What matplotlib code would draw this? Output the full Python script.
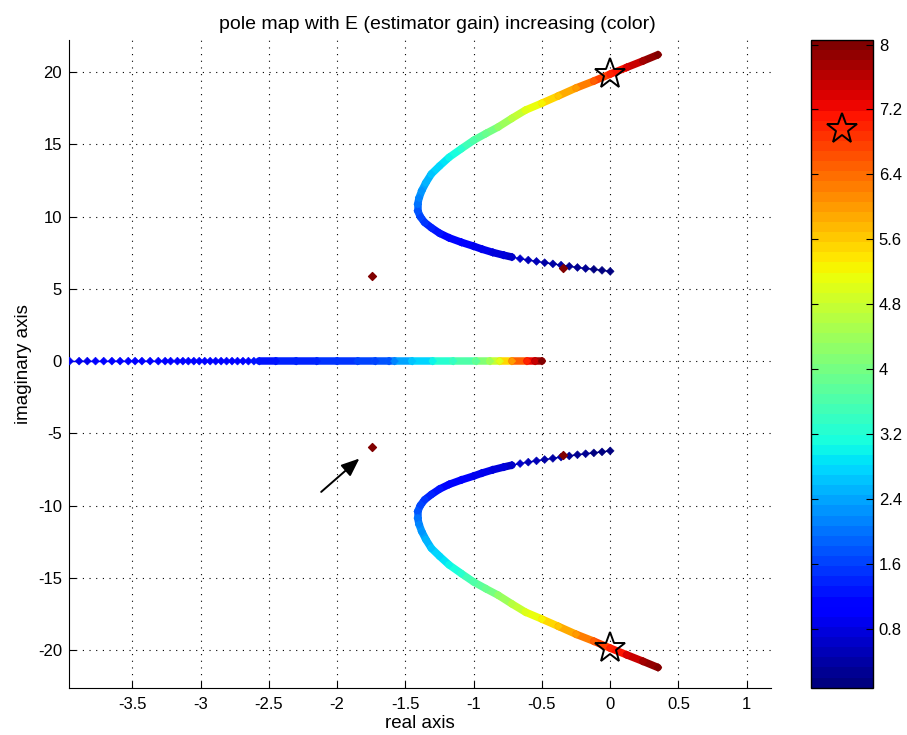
"""Pole map of the closed loop as the estimator gain E is swept.

Each pole is drawn as a dot coloured by the gain that produced it (jet colour
map); the two fixed poles and the chosen operating point are marked as well.
"""

import matplotlib

matplotlib.use("Agg")
import matplotlib.pyplot as plt
import numpy as np
from matplotlib.collections import LineCollection
from matplotlib.colors import Normalize

plt.rcParams["font.family"] = ["Liberation Sans", "DejaVu Sans"]
plt.rcParams["axes.unicode_minus"] = False

# complex pair (upper half, the lower half is its conjugate)
pair_re = [0.00, -0.06, -0.12, -0.18, -0.24, -0.30, -0.36, -0.42, -0.48, -0.54,
           -0.60, -0.66, -0.72, -0.78, -0.86, -0.94, -1.00, -1.09, -1.18, -1.25,
           -1.31, -1.36, -1.39, -1.41, -1.41, -1.40, -1.38, -1.35, -1.31, -1.25,
           -1.18, -1.09, -1.00, -0.91, -0.82, -0.72, -0.62, -0.50, -0.38, -0.25,
           -0.12, 0.00, 0.12, 0.24, 0.35]
pair_im = [6.21, 6.28, 6.35, 6.41, 6.48, 6.56, 6.64, 6.73, 6.81, 6.90,
           6.99, 7.09, 7.20, 7.33, 7.52, 7.75, 7.95, 8.22, 8.53, 8.85,
           9.23, 9.60, 9.98, 10.40, 10.86, 11.30, 11.80, 12.35, 12.95, 13.50,
           14.10, 14.70, 15.28, 15.75, 16.20, 16.80, 17.37, 17.85, 18.35, 18.90,
           19.38, 19.86, 20.32, 20.77, 21.20]
pair_gain = [0.10, 0.14, 0.18, 0.22, 0.26, 0.30, 0.34, 0.38, 0.43, 0.48,
             0.53, 0.58, 0.63, 0.70, 0.78, 0.86, 0.93, 1.02, 1.12, 1.22,
             1.35, 1.50, 1.65, 1.80, 1.98, 2.12, 2.30, 2.45, 2.62, 2.80,
             3.00, 3.30, 3.60, 3.90, 4.20, 4.60, 5.00, 5.30, 5.65, 6.00,
             6.45, 6.96, 7.35, 7.70, 8.00]

# real pole coming in from the left
real_re = [-3.96, -3.89, -3.83, -3.77, -3.71, -3.65, -3.59, -3.53, -3.48, -3.43,
           -3.37, -3.31, -3.26, -3.22, -3.17, -3.13, -3.09, -3.05, -3.01, -2.97,
           -2.93, -2.89, -2.85, -2.81, -2.77, -2.73, -2.69, -2.65, -2.61, -2.57,
           -2.45, -2.30, -2.15, -2.00, -1.85, -1.72, -1.62, -1.58, -1.45, -1.30,
           -1.15, -0.98, -0.88, -0.81, -0.72, -0.61, -0.55, -0.50]
real_gain = [0.92, 0.93, 0.94, 0.95, 0.96, 0.97, 0.98, 0.99, 1.00, 1.01,
             1.02, 1.03, 1.04, 1.05, 1.06, 1.07, 1.08, 1.09, 1.10, 1.11,
             1.12, 1.13, 1.14, 1.15, 1.16, 1.17, 1.18, 1.19, 1.20, 1.21,
             1.28, 1.36, 1.44, 1.52, 1.60, 1.68, 1.76, 2.10, 2.60, 3.00,
             3.40, 3.80, 4.40, 5.00, 6.00, 7.00, 7.50, 8.00]

# poles that do not move with E
fixed_re = [-1.744, -1.744, -0.344, -0.344]
fixed_im = [5.92, -5.92, 6.47, -6.47]

# selected gain and its pole pair
chosen_gain = 6.96
chosen_re = [0.0, 0.0]
chosen_im = [19.86, -19.86]

gain_min, gain_max = 0.07, 8.06
cmap = plt.get_cmap("jet", 64)
norm = Normalize(gain_min, gain_max)


def draw_branch(ax, re, im, gain):
    re, im, gain = map(np.asarray, (re, im, gain))
    pts = np.column_stack([re, im]).reshape(-1, 1, 2)
    segs = np.concatenate([pts[:-1], pts[1:]], axis=1)
    step = np.diff(gain)
    mid = 0.5 * (gain[:-1] + gain[1:])
    # fine gain steps stay visible as separate dots, coarse ones become a solid band
    widths = np.where(step > 0.065, 5.4, 1.0)
    ax.add_collection(LineCollection(segs, colors=cmap(norm(mid)), linewidths=widths,
                                     capstyle="round", zorder=2))
    ax.scatter(re, im, c=gain, cmap=cmap, norm=norm, marker="D", s=16,
               linewidths=0.4, edgecolors=cmap(norm(gain)), zorder=3)


fig = plt.figure(figsize=(9.07, 7.35), dpi=100)
ax = fig.add_axes([0.0761, 0.0643, 0.7743, 0.8817])
cax = fig.add_axes([0.8942, 0.0643, 0.0686, 0.8817])

draw_branch(ax, real_re, np.zeros(len(real_re)), real_gain)
draw_branch(ax, pair_re, pair_im, pair_gain)
draw_branch(ax, pair_re, -np.asarray(pair_im), pair_gain)

ax.scatter(fixed_re, fixed_im, color=cmap(norm(gain_max)), marker="D", s=16, zorder=4)
ax.plot(chosen_re, chosen_im, linestyle="none", marker="*", markersize=23,
        markerfacecolor="none", markeredgecolor="black", markeredgewidth=1.4, zorder=5)

ax.annotate("", xy=(-1.837, -6.74), xytext=(-2.117, -9.05),
            arrowprops=dict(arrowstyle="-|>,head_length=1.1,head_width=0.45",
                            color="black", lw=1.4, shrinkA=0, shrinkB=0))

ax.set_xlim(-3.964, 1.18)
ax.set_ylim(-22.6, 22.24)
ax.set_xticks([-3.5, -3, -2.5, -2, -1.5, -1, -0.5, 0, 0.5, 1])
ax.set_xticklabels(["-3.5", "-3", "-2.5", "-2", "-1.5", "-1", "-0.5", "0", "0.5", "1"])
ax.set_yticks([-20, -15, -10, -5, 0, 5, 10, 15, 20])
ax.grid(True, color="black", linestyle=(0, (1, 5)), linewidth=0.8)
ax.set_axisbelow(True)
ax.spines["top"].set_visible(False)
ax.spines["right"].set_visible(False)
ax.tick_params(direction="in", length=5, labelsize=12)
ax.tick_params(axis="x", pad=7)
ax.tick_params(axis="y", pad=5)
ax.set_xlabel("real axis", fontsize=13.5, labelpad=2)
ax.set_ylabel("imaginary axis", fontsize=13.5, labelpad=4)
ax.set_title("pole map with E (estimator gain) increasing (color)", fontsize=14,
             x=0.525, pad=8)

sm = plt.cm.ScalarMappable(norm=norm, cmap=cmap)
cb = fig.colorbar(sm, cax=cax, ticks=[0.8, 1.6, 2.4, 3.2, 4, 4.8, 5.6, 6.4, 7.2, 8])
cb.ax.set_yticklabels(["0.8", "1.6", "2.4", "3.2", "4", "4.8", "5.6", "6.4", "7.2", "8"])
cb.ax.tick_params(direction="in", length=5, labelsize=12, left=True, right=True, pad=4)
cb.outline.set_linewidth(1.0)
cax.plot([0.5], [chosen_gain], marker="*", markersize=23, markerfacecolor="none",
         markeredgecolor="black", markeredgewidth=1.4)
cax.set_xlim(0, 1)

fig.savefig("out.png", dpi=100)
